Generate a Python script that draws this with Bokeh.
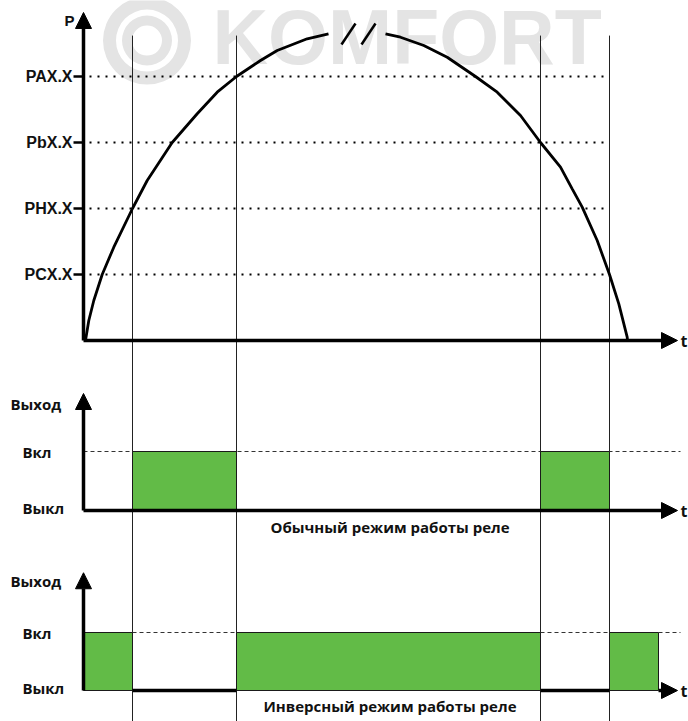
from bokeh.plotting import figure
from bokeh.models import Range1d, Arrow, NormalHead
from bokeh.core.properties import value
from bokeh.embed import file_html
from bokeh.resources import INLINE

# ---------------- data ----------------
p_labels = ["PAX.X", "PbX.X", "PHX.X", "PCX.X"]
p_levels = [4, 3, 2, 1]
t_switch = [4.9, 15.3, 45.7, 52.6]          # t1..t4 (switching moments)
t_end = 57.5                                 # end of inverse relay "on" state

# pressure curve (t, P)
rise_t = [0.2, 0.53, 1.03, 1.87, 3.03, 4.9, 6.37, 8.87, 11.37, 13.37, 15.3, 17.7, 19.37, 22.37, 24.5]
rise_p = [0.0, 0.303, 0.606, 1.0, 1.414, 2.0, 2.424, 3.0, 3.435, 3.762, 4.0, 4.242, 4.394, 4.571, 4.647]
fall_t = [30.2, 31.7, 34.03, 36.37, 39.2, 41.37, 43.7, 45.7, 47.7, 48.87, 49.87, 51.37, 52.6, 53.53, 54.37, 54.4]
fall_p = [4.647, 4.595, 4.47, 4.292, 4.0, 3.762, 3.409, 3.0, 2.626, 2.298, 2.02, 1.515, 1.0, 0.556, 0.05, 0.0]

# break mark "//" at the top of the curve
break_t0 = [25.8, 27.8]
break_p0 = [4.485, 4.485]
break_t1 = [27.2, 29.2]
break_p1 = [4.803, 4.803]

state_labels = ["Выкл", "Вкл"]
state_values = [0, 1]
normal_on_left = [t_switch[0], t_switch[2]]
normal_on_right = [t_switch[1], t_switch[3]]
inverse_on_left = [0, t_switch[1], t_switch[3]]
inverse_on_right = [t_switch[0], t_switch[2], t_end]
caption_normal = "Обычный режим работы реле"
caption_inverse = "Инверсный режим работы реле"
axis_y_title = "Выход"

# ---------------- layout (pixel mapping of the panels) ----------------
W, H = 688, 721
X_AXIS_PX, PX_PER_T = 83, 10.0
def xr():
    return Range1d(start=(0 - X_AXIS_PX) / PX_PER_T, end=(W - X_AXIS_PX) / PX_PER_T)
def yr(zero_px, px_per_unit):
    return Range1d(start=(zero_px - H) / px_per_unit, end=zero_px / px_per_unit)

p = figure(width=W, height=H, output_backend="svg", toolbar_location=None,
           x_range=xr(), y_range=yr(340, 66.0),
           x_axis_location=None, y_axis_location=None, min_border=0,
           background_fill_color="white", border_fill_color="white")
p.extra_y_ranges = {"r1": yr(510, 59.0), "r2": yr(690, 58.0)}
p.outline_line_color = None
p.xgrid.visible = False
p.ygrid.visible = False

GREEN = "#62bb47"
T_TIP = 59.4
T_LABEL = 59.7
LAB_FONT = value("Liberation Sans")
RU_FONT = value("Open Sans")

# ---------------- watermark ----------------
p.annulus(x=[6.35], y=[4.545], inner_radius=31, outer_radius=44,
          inner_radius_units="screen", outer_radius_units="screen",
          fill_color="#e4e4e4", line_color=None)
p.annulus(x=[6.35], y=[4.545], inner_radius=15, outer_radius=25,
          inner_radius_units="screen", outer_radius_units="screen",
          fill_color="#e4e4e4", line_color=None)
p.text(x=[12.9], y=[4.606], text=["KOMFORT"], text_font=LAB_FONT, text_font_style="bold",
       text_font_size="77px", text_color="#e4e4e4", text_baseline="middle", text_align="left")

# ---------------- vertical switching lines ----------------
p.segment(x0=t_switch, y0=[4.62] * 4, x1=t_switch, y1=[-6.0] * 4,
          line_color="#222222", line_width=1)

# ---------------- top panel: pressure ----------------
n = len(p_levels)
p.segment(x0=[0.6] * n, y0=p_levels, x1=[t_switch[3]] * n, y1=p_levels,
          line_color="black", line_width=2, line_dash="2 6")
p.segment(x0=[-1.0] * n, y0=p_levels, x1=[0] * n, y1=p_levels,
          line_color="black", line_width=2.5)
p.text(x=[0] * n, y=p_levels, text=p_labels, x_offset=-11, text_align="right",
       text_baseline="middle", text_font=LAB_FONT, text_font_style="bold",
       text_font_size="16px", text_color="#111111")
p.line(rise_t, rise_p, line_color="black", line_width=2.8)
p.line(fall_t, fall_p, line_color="black", line_width=2.8)
p.segment(x0=break_t0, y0=break_p0, x1=break_t1, y1=break_p1, line_color="black", line_width=2.5)

def axis_arrow(x0, y0, x1, y1, rng=None):
    kw = {} if rng is None else {"y_range_name": rng}
    p.add_layout(Arrow(end=NormalHead(size=16, fill_color="black", line_color="black", line_width=1),
                       x_start=x0, y_start=y0, x_end=x1, y_end=y1,
                       line_color="black", line_width=3.5, **kw))

axis_arrow(0, 0, 0, 4.97)
axis_arrow(0, 0, T_TIP, 0)
p.text(x=[0], y=[4.848], text=["P"], x_offset=-9, text_align="right", text_baseline="middle",
       text_font=LAB_FONT, text_font_style="bold", text_font_size="15px", text_color="#111111")
p.text(x=[T_LABEL], y=[0], text=["t"], text_align="left", text_baseline="middle",
       text_font=RU_FONT, text_font_style="bold", text_font_size="16px", text_color="#111111")

# ---------------- relay panels ----------------
def relay_labels(rng, title_y):
    p.text(x=[0], y=[title_y], text=[axis_y_title], x_offset=-73, text_align="left",
           text_baseline="middle", text_font=RU_FONT, text_font_style="bold",
           text_font_size="15px", text_color="#111111", y_range_name=rng)
    p.text(x=[0, 0], y=state_values, text=state_labels, x_offset=-61, y_offset=[-3, 0],
           text_align="left", text_baseline="middle", text_font=RU_FONT, text_font_style="bold",
           text_font_size="15px", text_color="#111111", y_range_name=rng)
    p.text(x=[T_LABEL], y=[0], text=["t"], text_align="left", text_baseline="middle",
           text_font=RU_FONT, text_font_style="bold", text_font_size="16px",
           text_color="#111111", y_range_name=rng)

# normal mode
p.segment(x0=[0], y0=[1], x1=[59.7], y1=[1], line_color="#333333", line_width=1,
          line_dash="4 3", y_range_name="r1")
p.quad(left=normal_on_left, right=normal_on_right, bottom=[0, 0], top=[1, 1],
       fill_color=GREEN, line_color="#1a1a1a", line_width=1, y_range_name="r1")
axis_arrow(0, 0, 0, 1.983, "r1")
axis_arrow(0, 0, T_TIP, 0, "r1")
relay_labels("r1", 1.81)
p.text(x=[30.65], y=[-0.288], text=[caption_normal], text_align="center", text_baseline="middle",
       text_font=RU_FONT, text_font_style="bold", text_font_size="15px", text_color="#111111",
       y_range_name="r1")

# inverse mode
p.segment(x0=[t_switch[0], t_switch[2], t_end], y0=[1, 1, 1],
          x1=[t_switch[1], t_switch[3], 59.7], y1=[1, 1, 1],
          line_color="#333333", line_width=1, line_dash="4 3", y_range_name="r2")
p.quad(left=inverse_on_left, right=inverse_on_right, bottom=[0] * 3, top=[1] * 3,
       fill_color=GREEN, line_color="#1a1a1a", line_width=1, y_range_name="r2")
p.segment(x0=[t_switch[0], t_switch[2]], y0=[0, 0], x1=[t_switch[1], t_switch[3]], y1=[0, 0],
          line_color="black", line_width=3.5, y_range_name="r2")
axis_arrow(0, 0, 0, 2.03, "r2")
axis_arrow(t_end, 0, T_TIP, 0, "r2")
relay_labels("r2", 1.88)
p.text(x=[30.65], y=[-0.259], text=[caption_inverse], text_align="center", text_baseline="middle",
       text_font=RU_FONT, text_font_style="bold", text_font_size="15px", text_color="#111111",
       y_range_name="r2")

open("out.html", "w").write(file_html(p, INLINE))
